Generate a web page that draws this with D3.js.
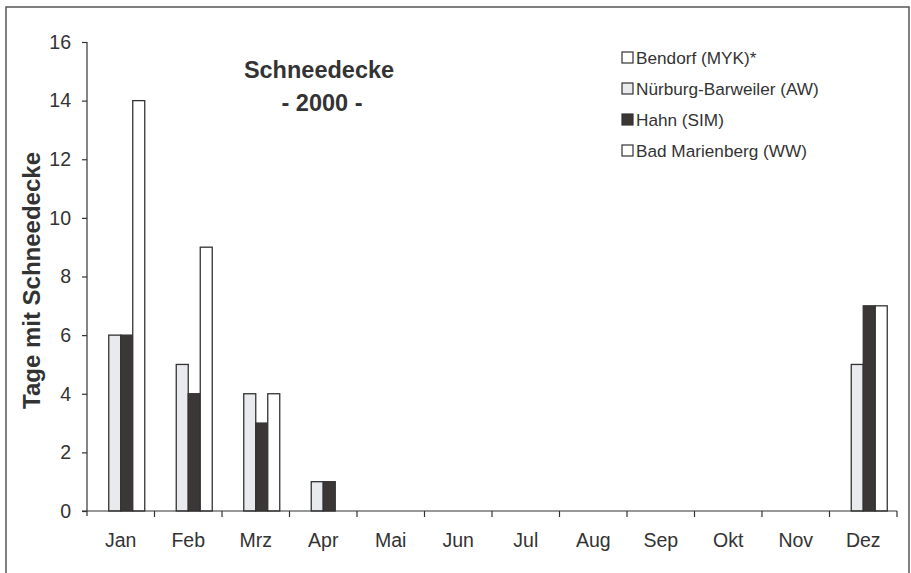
<!DOCTYPE html>
<html>
<head>
<meta charset="utf-8">
<script src="https://cdn.jsdelivr.net/npm/d3@7"></script>
<style>
  body { margin: 0; background: #fff; }
  svg { display: block; font-family: "Liberation Sans", Arial, sans-serif; }
</style>
</head>
<body>
<div id="chart"></div>
<script>
// Data
const months = ["Jan", "Feb", "Mrz", "Apr", "Mai", "Jun", "Jul", "Aug", "Sep", "Okt", "Nov", "Dez"];
const stations = ["Bendorf (MYK)*", "Nürburg-Barweiler (AW)", "Hahn (SIM)", "Bad Marienberg (WW)"];
const bendorf     = [0, 0, 0, 0, 0, 0, 0, 0, 0, 0, 0, 0];
const nuerburg    = [6, 5, 4, 1, 0, 0, 0, 0, 0, 0, 0, 5];
const hahn        = [6, 4, 3, 1, 0, 0, 0, 0, 0, 0, 0, 7];
const marienberg  = [14, 9, 4, 0, 0, 0, 0, 0, 0, 0, 0, 7];
const yTicks = [0, 2, 4, 6, 8, 10, 12, 14, 16];

const seriesValues = [bendorf, nuerburg, hahn, marienberg];
const fills = ["#ffffff", "#e9eaee", "#3b3736", "#ffffff"];

const width = 911, height = 573;
const margin = { left: 87, right: 14, top: 42, bottom: 62 };

const svg = d3.select("#chart")
    .append("svg")
    .attr("width", width)
    .attr("height", height);

// Frame around the whole figure
svg.append("rect")
    .attr("x", 6).attr("y", 7)
    .attr("width", 903).attr("height", 580)
    .attr("fill", "none")
    .attr("stroke", "#555")
    .attr("stroke-width", 1.5);

// Scales
const x = d3.scaleBand()
    .domain(months)
    .range([margin.left, width - margin.right]);

const y = d3.scaleLinear()
    .domain([0, 16])
    .range([height - margin.bottom, margin.top]);

const x1 = d3.scaleBand()
    .domain(d3.range(stations.length))
    .range([x.bandwidth() / 2 - 24, x.bandwidth() / 2 + 24]);

// Bars
const rows = months.map((m, i) => ({ month: m, values: seriesValues.map(s => s[i]) }));

const group = svg.append("g")
    .selectAll("g")
    .data(rows)
    .join("g")
    .attr("transform", d => `translate(${x(d.month)},0)`);

group.selectAll("rect")
    .data(d => d.values.map((v, k) => ({ k, v })).filter(e => e.v > 0))
    .join("rect")
    .attr("x", d => x1(d.k))
    .attr("y", d => y(d.v))
    .attr("width", x1.bandwidth())
    .attr("height", d => y(0) - y(d.v))
    .attr("fill", d => fills[d.k])
    .attr("stroke", "#333")
    .attr("stroke-width", 1.3);

// X axis
const xAxis = svg.append("g")
    .attr("transform", `translate(0,${y(0)})`);

xAxis.append("line")
    .attr("x1", margin.left - 5).attr("x2", width - margin.right)
    .attr("stroke", "#333").attr("stroke-width", 1.2);

xAxis.selectAll("line.tick")
    .data(months)
    .join("line")
    .attr("class", "tick")
    .attr("x1", d => x(d) + x.bandwidth()).attr("x2", d => x(d) + x.bandwidth())
    .attr("y1", 0).attr("y2", 6)
    .attr("stroke", "#333").attr("stroke-width", 1.2);

xAxis.selectAll("text")
    .data(months)
    .join("text")
    .attr("x", d => x(d) + x.bandwidth() / 2)
    .attr("y", 36)
    .attr("text-anchor", "middle")
    .attr("font-size", "19.5px")
    .attr("fill", "#333")
    .text(d => d);

// Y axis
const yAxis = svg.append("g")
    .attr("transform", `translate(${margin.left},0)`)
    .call(d3.axisLeft(y).tickValues(yTicks).tickSize(5).tickPadding(11));

yAxis.select(".domain")
    .attr("d", `M0,${y(16)}V${y(0) + 5}`)
    .attr("stroke", "#333").attr("stroke-width", 1.2);
yAxis.selectAll(".tick line").attr("stroke", "#333").attr("stroke-width", 1.2);
yAxis.selectAll(".tick text")
    .attr("font-size", "19.5px")
    .attr("font-family", "Liberation Sans, Arial, sans-serif")
    .attr("fill", "#333");

// Y label
svg.append("text")
    .attr("transform", `translate(40,${(y(0) + y(16)) / 2 + 4}) rotate(-90)`)
    .attr("text-anchor", "middle")
    .attr("font-size", "24px")
    .attr("font-weight", "bold")
    .attr("fill", "#333")
    .text("Tage mit Schneedecke");

// Title
svg.append("text")
    .attr("x", 319).attr("y", 78)
    .attr("text-anchor", "middle")
    .attr("font-size", "23.5px")
    .attr("font-weight", "bold")
    .attr("fill", "#333")
    .text("Schneedecke");

svg.append("text")
    .attr("x", 322).attr("y", 111)
    .attr("text-anchor", "middle")
    .attr("font-size", "23.5px")
    .attr("font-weight", "bold")
    .attr("fill", "#333")
    .text("- 2000 -");

// Legend
const legend = svg.append("g")
    .selectAll("g")
    .data(stations)
    .join("g")
    .attr("transform", (d, i) => `translate(622,${52 + i * 31})`);

legend.append("rect")
    .attr("width", 11).attr("height", 11)
    .attr("fill", (d, i) => fills[i])
    .attr("stroke", "#333")
    .attr("stroke-width", 1.2);

legend.append("text")
    .attr("x", 14).attr("y", 11.5)
    .attr("font-size", "17.2px")
    .attr("fill", "#333")
    .text(d => d);
</script>
</body>
</html>
